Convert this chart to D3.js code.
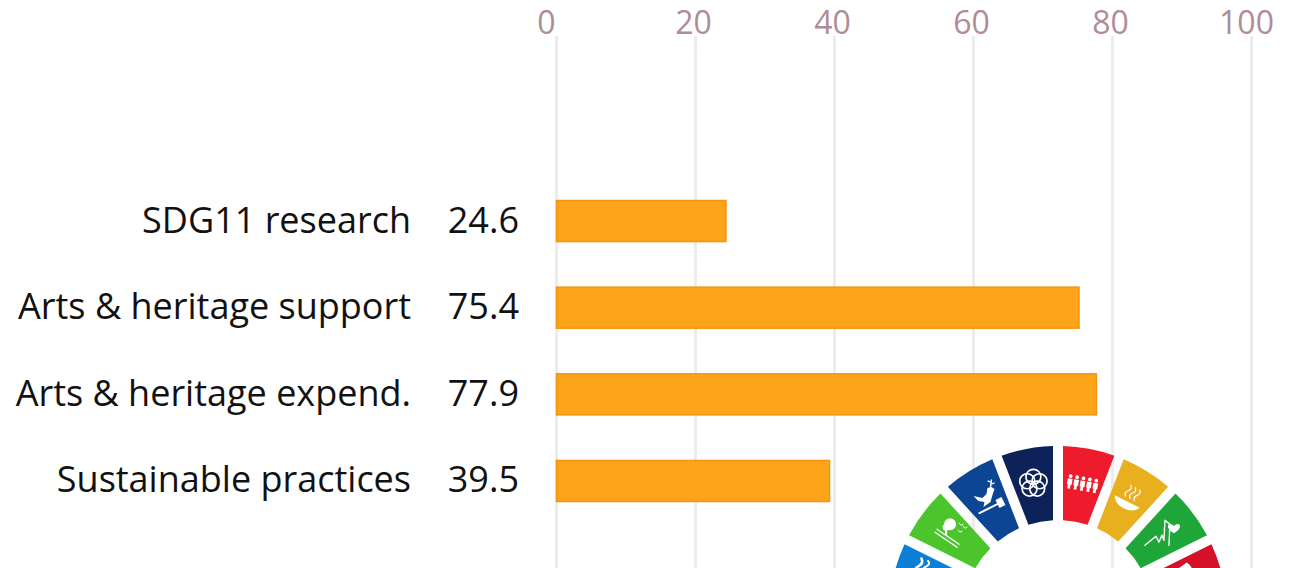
<!DOCTYPE html>
<html>
<head>
<meta charset="utf-8">
<script src="https://cdn.jsdelivr.net/npm/d3@7"></script>
<style>
  html, body { margin: 0; padding: 0; background: #fff; overflow: hidden; }
  svg { display: block; }
  text { font-family: "Open Sans", sans-serif; }
</style>
</head>
<body>
<div id="chart-1"></div>
<script>
let categories = ['SDG11 research', 'Arts & heritage support', 'Arts & heritage expend.', 'Sustainable practices']
let values = [24.6, 75.4, 77.9, 39.5]
let ticks = [0, 20, 40, 60, 80, 100]

// the 17 goals of the wheel, clockwise from the top
let goals = [1, 2, 3, 4, 5, 6, 7, 8, 9, 10, 11, 12, 13, 14, 15, 16, 17]
let goalColors = ['#ee1b2d', '#e8b01e', '#1ea639', '#d5112a', '#ff3a21', '#26bde2', '#fcc30b', '#a21942',
  '#fd6925', '#dd1367', '#fd9d24', '#bf8b2e', '#3f7e44', '#0b7fd6', '#4cc42c', '#0d4595', '#0c2259']

let width = 1291
let height = 568

let svg = d3
  .select('#chart-1')
  .append('svg')
  .attr('width', width)
  .attr('height', height)

let x = d3.scaleLinear().domain([0, 100]).range([556, 1251])
let y = d3.scaleBand().domain(categories).range([177.7, 524.3]).paddingInner(0.515).paddingOuter(0.2575)

// axis on top, long ticks work as the grid
let axis = d3.axisTop(x).tickValues(ticks).tickSize(-(height - 36)).tickPadding(1)

let axisG = svg
  .append('g')
  .attr('transform', 'translate(0,36)')
  .call(axis)

axisG.select('.domain').remove()
axisG.selectAll('.tick line')
  .attr('stroke', '#ececec')
  .attr('stroke-width', 3)
// labels sit a little left of their grid line, the outer two more so
axisG.selectAll('.tick text')
  .attr('fill', '#b08c96')
  .attr('font-size', 32)
  .attr('dx', d => d === 0 ? -10 : d === 100 ? -5 : -2)
  .attr('y', -2)

svg
  .selectAll('.bar')
  .data(values)
  .enter()
  .append('rect')
  .attr('class', 'bar')
  .attr('x', x(0) + 0.5)
  .attr('y', (d, i) => y(categories[i]) + 0.5)
  .attr('width', d => x(d) - x(0) - 1.5)
  .attr('height', y.bandwidth() - 1)
  .attr('fill', '#fda41a')
  .attr('stroke', '#f6940f')
  .attr('stroke-width', 1.5)

svg
  .selectAll('.label')
  .data(categories)
  .enter()
  .append('text')
  .attr('class', 'label')
  .attr('x', 411)
  .attr('y', d => y(d) + y.bandwidth() / 2 + 11.5)
  .attr('text-anchor', 'end')
  .attr('font-size', 36)
  .attr('fill', '#111')
  .text(d => d)

svg
  .selectAll('.value')
  .data(values)
  .enter()
  .append('text')
  .attr('class', 'value')
  .attr('x', 519)
  .attr('y', (d, i) => y(categories[i]) + y.bandwidth() / 2 + 11.5)
  .attr('text-anchor', 'end')
  .attr('font-size', 36)
  .attr('fill', '#111')
  .text(d => d)

// SDG wheel in the bottom corner
let wheel = svg.append('g').attr('transform', 'translate(1058,615)')
let pie = d3.pie().value(1).sort(null)
let arc = d3.arc().innerRadius(95).outerRadius(169).padRadius(169).padAngle(10 / 169)

let slices = wheel
  .selectAll('.goal')
  .data(pie(goals))
  .enter()
  .append('g')
  .attr('class', 'goal')

slices.append('path')
  .attr('d', arc)
  .attr('fill', (d, i) => goalColors[i])

// white icon for a goal, placed at mid radius and turned by its own angle
function drawIcon(goal, turn, fn) {
  let g = slices.filter(d => d.data === goal)
    .append('g')
    .attr('transform', d => {
      let a = (d.startAngle + d.endAngle) / 2
      return `translate(${134 * Math.sin(a)},${-134 * Math.cos(a)}) rotate(${turn})`
    })
    .attr('fill', 'none')
    .attr('stroke', '#fff')
    .attr('stroke-width', 2)
    .attr('stroke-linecap', 'round')
  fn(g)
}

// people
drawIcon(1, 10, g => {
  d3.range(-13, 14, 6.5).forEach(px => {
    g.append('circle').attr('cx', px).attr('cy', -5).attr('r', 1.9).attr('fill', '#fff').attr('stroke', 'none')
    g.append('path').attr('d', `M${px - 2.4},-2.5h4.8v6h-1v4h-2.8v-4h-1z`).attr('fill', '#fff').attr('stroke', 'none')
  })
})

// bowl and steam
drawIcon(2, 27, g => {
  g.append('path').attr('d', 'M-15,1A15,12 0 0 0 13,1Z').attr('fill', '#fff').attr('stroke', 'none')
  ;[-5, 0, 5].forEach(px => {
    g.append('path').attr('d', `M${px},-3q-3,-3 0,-6q3,-3 0,-6`).attr('stroke-width', 1.2)
  })
})

// heartbeat and heart
drawIcon(3, 0, g => {
  g.append('path').attr('d', 'M-20,11L-9,2L-6,8L-3,1L-1,6L0,-14L5,-10L4,11')
    .attr('stroke-width', 1.4).attr('stroke-linejoin', 'round')
  g.append('path').attr('d', 'M9,-8c-2,-3 -6,-3 -6,0c0,3 3,5 6,7c3,-2 6,-4 6,-7c0,-3 -4,-3 -6,0z')
    .attr('fill', '#fff').attr('stroke', 'none')
})

// open book
drawIcon(4, 55, g => {
  g.append('path').attr('d', 'M-13,-9q7,-3 13,2q6,-5 13,-2v14q-7,-3 -13,2q-6,-5 -13,-2z')
    .attr('fill', '#fff').attr('stroke', 'none')
})

// waves
drawIcon(14, -70, g => {
  g.append('path').attr('d', 'M-16,-14q4,-4 8,0t8,0t8,0t8,0').attr('stroke-width', 2.5)
  g.append('path').attr('d', 'M-14,-7q4,-4 8,0t8,0t8,0t6,0').attr('stroke-width', 2)
})

// tree and ground lines
drawIcon(15, 0, g => {
  g.append('circle').attr('cx', -1).attr('cy', -10).attr('r', 6).attr('fill', '#fff').attr('stroke', 'none')
  g.append('circle').attr('cx', -5).attr('cy', -7).attr('r', 3.5).attr('fill', '#fff').attr('stroke', 'none')
  g.append('path').attr('d', 'M-5,-5V0')
  g.append('path').attr('d', 'M-16,-2L6,13M-14,-5L8,10').attr('stroke-width', 1.4)
  g.append('path').attr('d', 'M8,-11l2,2l2,-1M12,-8l2,2l2,-1M7,-4l2,2l2,-1').attr('stroke-width', 1)
})

// dove and gavel
drawIcon(16, 0, g => {
  g.append('path').attr('d', 'M-14,-5L-5,-3L-1,-7L0,-13L4,-14L7,-12L5,-6L3,1L-4,6L-3,1L-9,0Z')
    .attr('fill', '#fff').attr('stroke', 'none')
  g.append('path').attr('d', 'M-8,12L10,3').attr('stroke-width', 2)
  g.append('path').attr('d', 'M8,-1L14,-4L18,4L12,7Z').attr('fill', '#fff').attr('stroke', 'none')
  g.append('path').attr('d', 'M3,-14L4,-21M3.5,-17l3,-1M3.7,-19l-3,-1').attr('stroke-width', 1.4)
})

// five linked rings
drawIcon(17, 0, g => {
  d3.range(5).forEach(k => {
    let t = k * 2 * Math.PI / 5
    g.append('circle')
      .attr('cx', 6.5 * Math.sin(t))
      .attr('cy', -6.5 * Math.cos(t))
      .attr('r', 7.5)
      .attr('stroke-width', 1.7)
  })
})
</script>
</body>
</html>
